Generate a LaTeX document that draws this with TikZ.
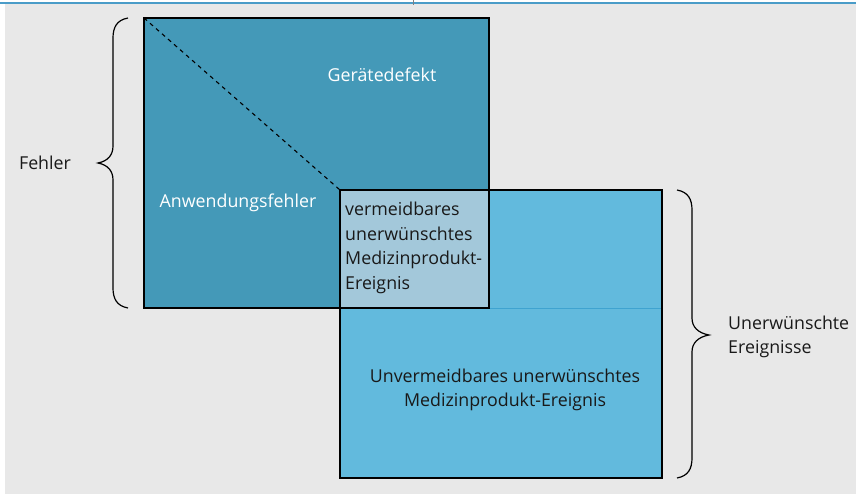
\documentclass[tikz,border=0pt]{standalone}
\usepackage{fontspec}
\setmainfont{Open Sans}
\definecolor{bgc}{HTML}{E8E8E8}
\definecolor{topline}{HTML}{4A9CC8}
\definecolor{darkbox}{HTML}{4499B8}
\definecolor{lightbox}{HTML}{62BADD}
\definecolor{overlapc}{HTML}{A3C8DA}
\definecolor{sepline}{HTML}{3FA3D0}
\begin{document}
\begin{tikzpicture}[x=1pt,y=-1pt,
  box/.style={draw=black,line width=1.3pt,anchor=north west,inner sep=0pt,outer sep=0pt},
  lbl/.style={font=\fontsize{17.8}{24.5}\selectfont,inner sep=0pt,align=left},
  brace/.style={line width=1.2pt}]
\useasboundingbox (0,0) rectangle (856,494);
\fill[white] (0,0) rectangle (856,494);
\fill[bgc] (5,4) rectangle (856,494);
\draw[topline,line width=2pt] (0,3.5) -- (856,3.5);
\draw[gray,line width=0.6pt] (413,0) -- (413,5);
% boxes
\node[box,fill=darkbox,minimum width=345pt,minimum height=290pt] (A) at (144,18) {};
\node[box,fill=lightbox,minimum width=322pt,minimum height=288pt] (B) at (340,190) {};
\node[box,fill=overlapc,minimum width=149pt,minimum height=118pt] (C) at (340,190) {};
\coordinate (S) at (662,308);
\draw[sepline,line width=0.8pt] (C.south east) -- (S);
\draw[box,fill=none] (B.north west) rectangle (B.south east);
\draw[line width=1.3pt] (C.north west) rectangle (C.south east);
\draw[dashed,line width=1.1pt,dash pattern=on 4pt off 4pt] (A.north west) -- (C.north west);
% labels
\node[lbl,white] (gd) at (382,75) {Gerätedefekt};
\node[lbl,white] (af) at (238,203) {Anwendungsfehler};
\node[lbl,anchor=north west,text=black!90] (ve) at (345,202) {vermeidbares\\unerwünschtes\\Medizinprodukt-\\Ereignis};
\node[lbl,align=center,text=black!90] (un) at (505,390) {Unvermeidbares unerwünschtes\\Medizinprodukt-Ereignis};
\node[lbl,text=black!90] (fe) at (45,163) {Fehler};
\node[lbl,anchor=west,text=black!90] (ue) at (728,337) {Unerwünschte\\Ereignisse};
% braces
\coordinate (l1) at (128,18);
\coordinate (lt) at (98,163);
\coordinate (l2) at (128,308);
\draw[brace] (l1) .. controls (117,20) and (113,27) .. (113,38)
  -- (113,146) .. controls (113,155) and (108,161) .. (lt)
  .. controls (108,165) and (113,171) .. (113,180)
  -- (113,288) .. controls (113,299) and (117,306) .. (l2);
\coordinate (r1) at (677,190);
\coordinate (rt) at (709,335);
\coordinate (r2) at (677,478);
\draw[brace] (r1) .. controls (688,192) and (692,199) .. (692,210)
  -- (692,318) .. controls (692,327) and (698,333) .. (rt)
  .. controls (698,337) and (692,343) .. (692,352)
  -- (692,458) .. controls (692,469) and (688,476) .. (r2);
\end{tikzpicture}
\end{document}
